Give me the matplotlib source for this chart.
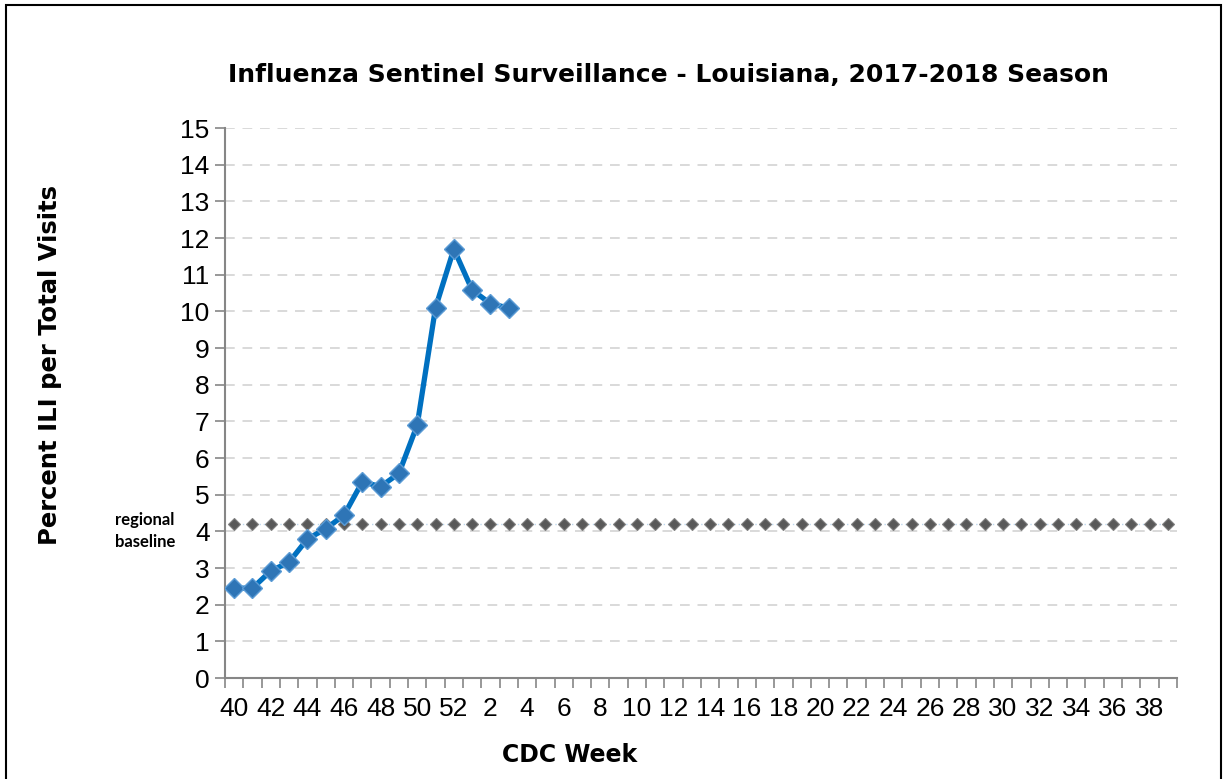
import matplotlib
matplotlib.use("Agg")
import matplotlib.pyplot as plt
from matplotlib.patches import Rectangle
import numpy as np

weeks = list(range(40, 53)) + list(range(1, 40))
ili_values = [2.45, 2.45, 2.92, 3.16, 3.79, 4.07, 4.44, 5.35, 5.22, 5.58,
              6.90, 10.10, 11.70, 10.58, 10.21, 10.09]
baseline_value = 4.2
baseline = [baseline_value] * len(weeks)
tick_labels = [str(w) for w in weeks]

fig = plt.figure(figsize=(12.25, 7.79), dpi=100)
ax = fig.add_axes([225/1225, 1-678/779, (1177-225)/1225, (678-128)/779])

x_all = np.arange(len(weeks))
x_ili = np.arange(len(ili_values))

ax.plot(x_all, baseline, linestyle=(0, (1, 2)), color='#BDD7EE', lw=1, zorder=2)
ax.plot(x_all, baseline, linestyle='none', marker='D', markersize=6,
        markerfacecolor='#595959', markeredgecolor='#7F7F7F', markeredgewidth=0.8, zorder=3)
ax.plot(x_ili, ili_values, color='#0070C0', lw=3.8, marker='D', markersize=10,
        markerfacecolor='#2E75B6', markeredgecolor='#5B9BD5', markeredgewidth=1, zorder=4)

ax.set_xlim(-0.5, len(weeks) - 0.5)
ax.set_ylim(0, 15)
ax.set_yticks(range(0, 16))
ax.set_xticks(x_all[::2])
ax.set_xticklabels(tick_labels[::2])
ax.set_xticks(np.arange(-0.5, len(weeks), 1), minor=True)
ax.tick_params(axis='x', which='major', length=0, pad=14)
ax.tick_params(axis='x', which='minor', length=7, width=1.2, color='#868686', direction='out')
ax.tick_params(axis='y', length=7, width=1.2, color='#868686', direction='out', pad=4)

tick_font = dict(family=['Liberation Sans Narrow', 'Liberation Sans'], size=19)
for lbl in ax.get_xticklabels() + ax.get_yticklabels():
    lbl.set_fontfamily(tick_font['family'])
    lbl.set_fontsize(tick_font['size'])
    lbl.set_color('black')

ax.grid(axis='y', color='#D9D9D9', linestyle=(0, (5, 4)), lw=1.4, zorder=0)
ax.set_axisbelow(True)
for s in ['top', 'right']:
    ax.spines[s].set_visible(False)
for s in ['left', 'bottom']:
    ax.spines[s].set_color('#868686')
    ax.spines[s].set_linewidth(1.5)

fig.text(668/1225, 1-75/779, 'Influenza Sentinel Surveillance - Louisiana, 2017-2018 Season',
         ha='center', va='center', fontsize=18, fontweight='bold', family='DejaVu Sans')
fig.text(50/1225, 1-365/779, 'Percent ILI per Total Visits', rotation=90,
         ha='center', va='center', fontsize=17.5, fontweight='bold', family='DejaVu Sans')
fig.text(570/1225, 1-755/779, 'CDC Week', ha='center', va='center',
         fontsize=17, fontweight='bold', family='DejaVu Sans')
fig.text(145/1225, 1-531/779, 'regional\nbaseline', ha='center', va='center',
         fontsize=12, fontweight='bold', family='Lato', linespacing=1.4)

fig.patches.append(Rectangle((6/1225, -0.02), (1221-6)/1225, 1.02 - 5/779,
                             transform=fig.transFigure, fill=False, edgecolor='black', lw=1.5))

fig.savefig('out.png', dpi=100)
